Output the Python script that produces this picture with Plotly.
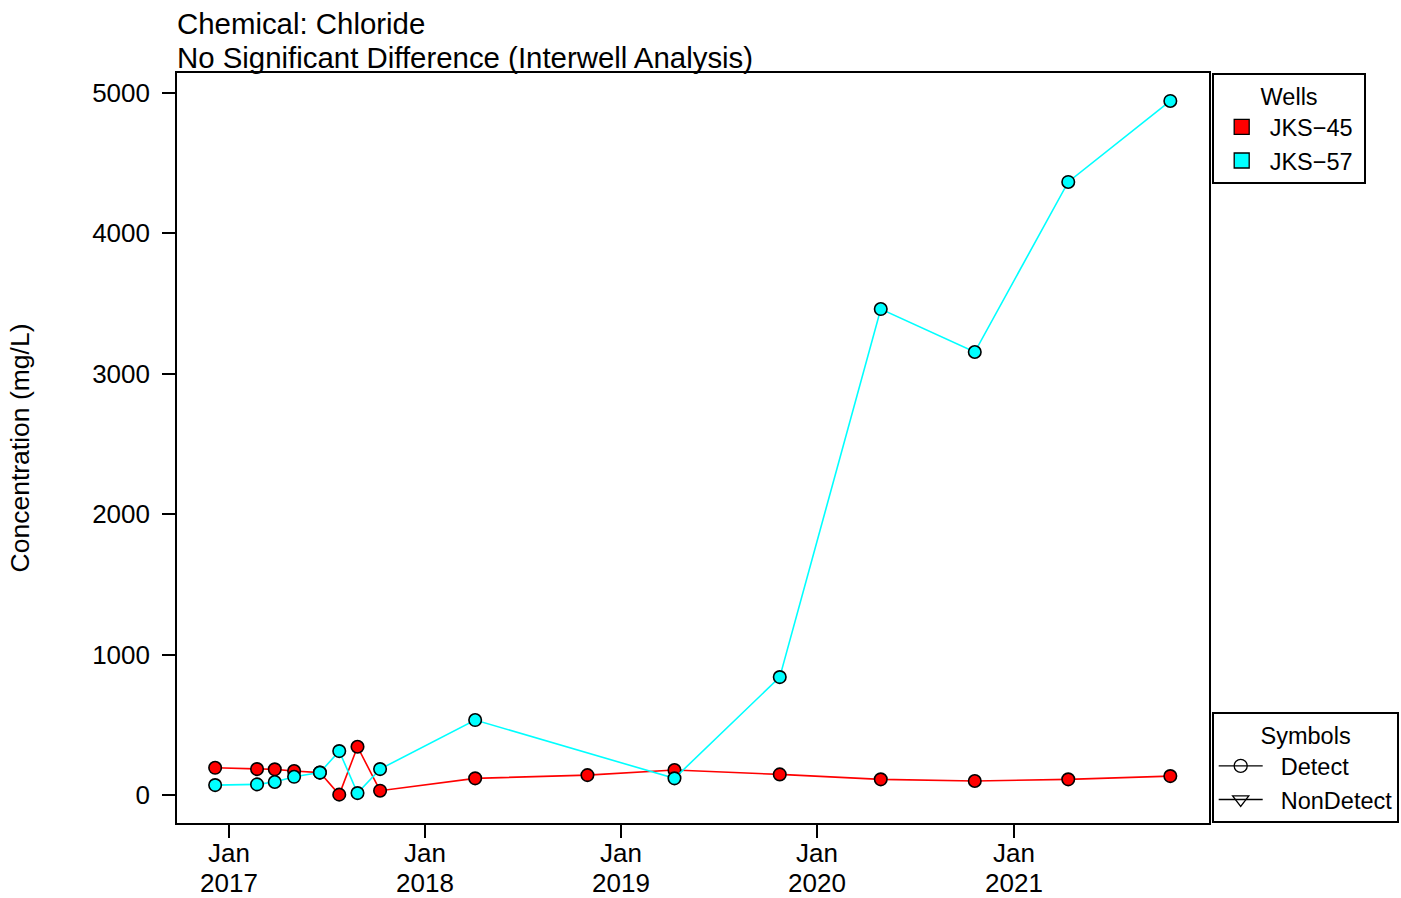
import plotly.graph_objects as go

# ---- data ----
dates_45 = ["2016-12-06", "2017-02-22", "2017-03-27", "2017-05-02", "2017-06-19",
            "2017-07-25", "2017-08-28", "2017-10-09", "2018-04-04", "2018-10-30",
            "2019-04-10", "2019-10-23", "2020-04-28", "2020-10-20", "2021-04-12",
            "2021-10-19"]
vals_45 = [194, 185, 183, 171, 160, 3, 344, 31, 119, 142, 178, 147, 112, 100, 112, 135]

dates_57 = ["2016-12-06", "2017-02-22", "2017-03-27", "2017-05-02", "2017-06-19",
            "2017-07-25", "2017-08-28", "2017-10-09", "2018-04-04",
            "2019-04-10", "2019-10-23", "2020-04-28", "2020-10-20", "2021-04-12",
            "2021-10-19"]
vals_57 = [71, 76, 93, 130, 160, 313, 14, 185, 534, 119, 840, 3461, 3155, 4366, 4943]

wells = ["JKS\u221245", "JKS\u221257"]
well_colors = ["#FF0000", "#00FFFF"]
symbol_names = ["Detect", "NonDetect"]

x_tick_vals = ["2017-01-01", "2018-01-01", "2019-01-01", "2020-01-01", "2021-01-01"]
x_tick_month = ["Jan", "Jan", "Jan", "Jan", "Jan"]
x_tick_year = ["2017", "2018", "2019", "2020", "2021"]
y_tick_vals = [0, 1000, 2000, 3000, 4000, 5000]

title_line1 = "Chemical: Chloride"
title_line2 = "No Significant Difference (Interwell Analysis)"
y_title = "Concentration (mg/L)"

FONT = "Liberation Sans, Arial, sans-serif"
NB = "\u00a0\u00a0"

fig = go.Figure()

for d, v, c in [(dates_45, vals_45, well_colors[0]), (dates_57, vals_57, well_colors[1])]:
    fig.add_trace(go.Scatter(
        x=d, y=v, mode="lines+markers", showlegend=False, hoverinfo="x+y",
        line=dict(color=c, width=1.6),
        marker=dict(symbol="circle", size=12.5, color=c, line=dict(color="black", width=1.6)),
    ))

# Wells legend entries
for name, c in zip(wells, well_colors):
    fig.add_trace(go.Scatter(
        x=[None], y=[None], mode="markers", name=name + "\u00a0", legend="legend",
        marker=dict(symbol="square", size=15, color=c, line=dict(color="black", width=1.3)),
    ))

# Symbols legend entries
for name, sym, sz in zip(symbol_names, ["circle-open", "triangle-down-open"], [13, 14]):
    fig.add_trace(go.Scatter(
        x=[None], y=[None], mode="lines+markers", name=NB + name, legend="legend2",
        line=dict(color="black", width=1.3),
        marker=dict(symbol=sym, size=sz, color="black", line=dict(width=1.3)),
    ))

annotations = [
    dict(text=title_line1, xref="paper", yref="paper", x=0, y=1, xanchor="left",
         yanchor="bottom", yshift=31, xshift=-2, showarrow=False, font=dict(size=29.4)),
    dict(text=title_line2, xref="paper", yref="paper", x=0, y=1, xanchor="left",
         yanchor="bottom", yshift=-3, xshift=-2, showarrow=False, font=dict(size=29.4)),
]
for xv, m, yr in zip(x_tick_vals, x_tick_month, x_tick_year):
    annotations.append(dict(text=m, x=xv, xref="x", y=0, yref="paper", yanchor="top",
                            xanchor="center", yshift=-13, showarrow=False, font=dict(size=26)))
    annotations.append(dict(text=yr, x=xv, xref="x", y=0, yref="paper", yanchor="top",
                            xanchor="center", yshift=-43, showarrow=False, font=dict(size=26)))

fig.update_layout(
    width=1401, height=898,
    margin=dict(l=177, r=192, t=73, b=75, autoexpand=False),
    paper_bgcolor="white", plot_bgcolor="white",
    font=dict(family=FONT, size=26, color="black"),
    xaxis=dict(
        type="date", range=["2016-09-26", "2021-12-30"],
        tickmode="array", tickvals=x_tick_vals, showticklabels=False,
        showgrid=False, zeroline=False,
        showline=True, mirror=True, linecolor="black", linewidth=1.6,
        ticks="outside", ticklen=13, tickwidth=1.6, tickcolor="black",
    ),
    yaxis=dict(
        range=[-199, 5142],
        tickmode="array", tickvals=y_tick_vals,
        showgrid=False, zeroline=False,
        showline=True, mirror=True, linecolor="black", linewidth=1.6,
        ticks="outside", ticklen=13, tickwidth=1.6, tickcolor="black",
        tickfont=dict(size=26), ticklabelstandoff=7,
        title=dict(text=y_title, font=dict(size=26.5), standoff=55),
    ),
    legend=dict(
        x=1.003, xanchor="left", y=1.0, yanchor="top",
        bordercolor="black", borderwidth=1.6, bgcolor="white",
        font=dict(size=23.5), title=dict(text="Wells", side="top center", font=dict(size=23.5)),
        itemsizing="trace", tracegroupgap=0, itemwidth=46,
    ),
    legend2=dict(
        x=1.003, xanchor="left", y=0.0, yanchor="bottom",
        bordercolor="black", borderwidth=1.6, bgcolor="white",
        font=dict(size=23.5), title=dict(text="Symbols", side="top center", font=dict(size=23.5)),
        itemsizing="trace", tracegroupgap=0, itemwidth=44,
    ),
    annotations=annotations,
)

fig.write_html("out.html", config={"displayModeBar": False},
               post_script="document.body.style.margin='0';")
